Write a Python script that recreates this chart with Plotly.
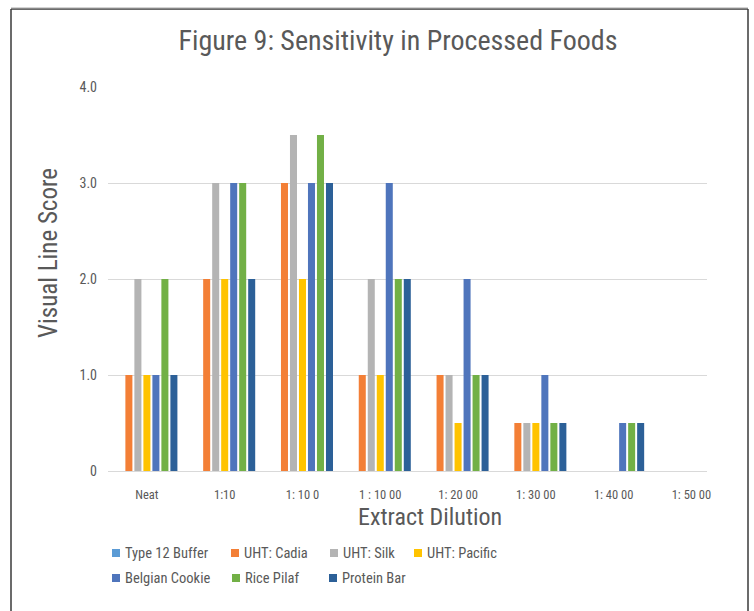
import plotly.graph_objects as go

# Dilution steps along the x axis
categories = ["Neat", "1:10", "1: 10 0", "1 : 10 00", "1: 20 00", "1: 30 00", "1: 40 00", "1: 50 00"]

# Visual line score per sample at each dilution
type12_buffer = [0, 0, 0, 0, 0, 0, 0, 0]
uht_cadia = [1, 2, 3, 1, 1, 0.5, 0, 0]
uht_silk = [2, 3, 3.5, 2, 1, 0.5, 0, 0]
uht_pacific = [1, 2, 2, 1, 0.5, 0.5, 0, 0]
belgian_cookie = [1, 3, 3, 3, 2, 1, 0.5, 0]
rice_pilaf = [2, 3, 3.5, 2, 1, 0.5, 0.5, 0]
protein_bar = [1, 2, 3, 2, 1, 0.5, 0.5, 0]

series_names = ["Type 12 Buffer", "UHT: Cadia", "UHT: Silk", "UHT: Pacific",
                "Belgian Cookie", "Rice Pilaf", "Protein Bar"]
series_values = [type12_buffer, uht_cadia, uht_silk, uht_pacific,
                 belgian_cookie, rice_pilaf, protein_bar]
colors = ["#5B9BD5", "#F37F36", "#B4B4B4", "#FFC300", "#4F75BC", "#72B046", "#2C6098"]

y_ticks = [0, 1, 2, 3, 4]
y_tick_text = ["0", "1.0", "2.0", "3.0", "4.0"]

FONT = "Liberation Sans Narrow, Roboto Condensed, Arial Narrow, sans-serif"
TEXT = "#595959"

W, H = 754, 611
L, R, T, B = 108, 707, 87, 471  # plot area in pixels


def px_x(px):
    return (px - L) / (R - L)


def px_y(py):
    return (B - py) / (B - T)


fig = go.Figure()
for name, vals, col in zip(series_names, series_values, colors):
    fig.add_trace(go.Bar(
        x=categories, y=vals, name=name,
        marker=dict(color=col, line=dict(width=0)),
        showlegend=False,
    ))

shapes = []
annotations = []

# Outer frame (left, top, right)
frame = dict(type="line", xref="paper", yref="paper", line=dict(color="#3A3A3A", width=1.5))
shapes.append(dict(frame, x0=px_x(11), x1=px_x(11), y0=px_y(9), y1=px_y(620)))
shapes.append(dict(frame, x0=px_x(11), x1=px_x(748), y0=px_y(9), y1=px_y(9)))
shapes.append(dict(frame, x0=px_x(748), x1=px_x(748), y0=px_y(9), y1=px_y(620)))
shapes.append(dict(type="line", xref="paper", yref="paper", x0=px_x(11), x1=px_x(748),
                   y0=px_y(8), y1=px_y(8), line=dict(color="#A8A8A8", width=1)))

# Legend laid out in two rows of columns
legend_pos = [(112, 553), (231, 553), (330, 553), (414, 553),
              (112, 578), (232, 578), (329, 578)]
for (lx, ly), name, col in zip(legend_pos, series_names, colors):
    shapes.append(dict(type="rect", xref="paper", yref="paper",
                       x0=px_x(lx), x1=px_x(lx + 8), y0=px_y(ly - 4), y1=px_y(ly + 4),
                       fillcolor=col, line=dict(width=0)))
    annotations.append(dict(text=name, xref="paper", yref="paper", x=px_x(lx + 11), y=px_y(ly),
                            xanchor="left", yanchor="middle", showarrow=False,
                            font=dict(family=FONT, size=14.5, color=TEXT)))

# Axis titles
annotations.append(dict(text="Visual Line Score", xref="paper", yref="paper",
                        x=px_x(48), y=px_y(253), textangle=-90, showarrow=False,
                        xanchor="center", yanchor="middle",
                        font=dict(family=FONT, size=25, color=TEXT)))
annotations.append(dict(text="Extract Dilution", xref="paper", yref="paper",
                        x=px_x(430), y=px_y(517), showarrow=False,
                        xanchor="center", yanchor="middle",
                        font=dict(family=FONT, size=24, color=TEXT)))

fig.update_layout(
    width=W, height=H,
    margin=dict(l=L, r=W - R, t=T, b=H - B),
    paper_bgcolor="white", plot_bgcolor="white",
    title=dict(text="Figure 9: Sensitivity in Processed Foods",
               x=398 / W, xanchor="center", y=1 - 40 / H, yanchor="middle",
               font=dict(family=FONT, size=28, color=TEXT)),
    barmode="group", bargap=0.19, bargroupgap=0.22,
    showlegend=False,
    shapes=shapes, annotations=annotations,
    xaxis=dict(range=[-0.5, 7.2], showgrid=False, showline=True, linecolor="#D9D9D9",
               linewidth=1, ticks="", ticklabelstandoff=12, zeroline=False,
               tickfont=dict(family=FONT, size=12.5, color=TEXT), fixedrange=True),
    yaxis=dict(range=[0, 4], tickvals=y_ticks, ticktext=y_tick_text, showgrid=True,
               gridcolor="#D9D9D9", gridwidth=1, zeroline=False, showline=False,
               ticks="", ticklabelstandoff=10,
               tickfont=dict(family=FONT, size=14, color=TEXT), fixedrange=True),
)

fig.write_html("out.html")
